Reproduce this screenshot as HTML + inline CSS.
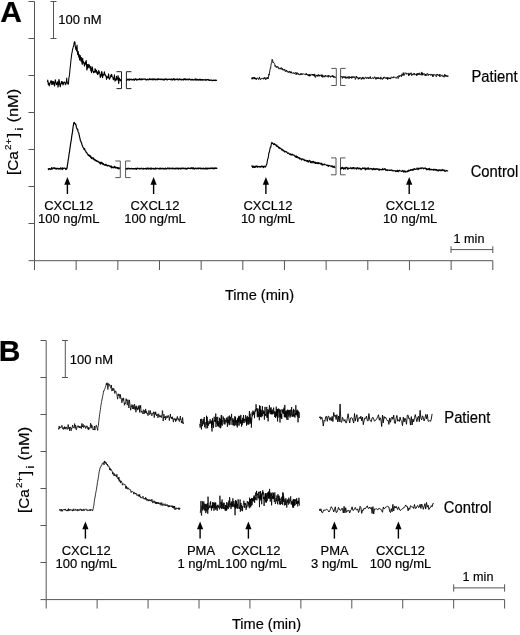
<!DOCTYPE html>
<html><head><meta charset="utf-8"><title>Figure</title>
<style>html,body{margin:0;padding:0;background:#fff;}svg{display:block;}text{font-family:"Liberation Sans",Arial,sans-serif;fill:#000;stroke:#000;stroke-width:0.18px;}</style>
</head><body>
<svg width="520" height="635" viewBox="0 0 520 635">
<rect width="520" height="635" fill="#fff"/>
<text x="0.3" y="22.3" font-size="30" text-anchor="start" font-weight="bold" >A</text>
<line x1="34.5" y1="1.5" x2="34.5" y2="260.7" stroke="#555" stroke-width="1"/>
<line x1="28.5" y1="1.5" x2="34.5" y2="1.5" stroke="#555" stroke-width="1"/>
<line x1="28.5" y1="38.5" x2="34.5" y2="38.5" stroke="#555" stroke-width="1"/>
<line x1="28.5" y1="75.5" x2="34.5" y2="75.5" stroke="#555" stroke-width="1"/>
<line x1="28.5" y1="112.5" x2="34.5" y2="112.5" stroke="#555" stroke-width="1"/>
<line x1="28.5" y1="149.5" x2="34.5" y2="149.5" stroke="#555" stroke-width="1"/>
<line x1="28.5" y1="186.5" x2="34.5" y2="186.5" stroke="#555" stroke-width="1"/>
<line x1="28.5" y1="223.5" x2="34.5" y2="223.5" stroke="#555" stroke-width="1"/>
<line x1="28.5" y1="260.7" x2="34.5" y2="260.7" stroke="#555" stroke-width="1"/>
<line x1="34.5" y1="260.7" x2="492.8" y2="260.7" stroke="#555" stroke-width="1"/>
<line x1="34.5" y1="260.7" x2="34.5" y2="270" stroke="#555" stroke-width="1"/>
<line x1="76.16" y1="260.7" x2="76.16" y2="270" stroke="#555" stroke-width="1"/>
<line x1="117.83" y1="260.7" x2="117.83" y2="270" stroke="#555" stroke-width="1"/>
<line x1="159.49" y1="260.7" x2="159.49" y2="270" stroke="#555" stroke-width="1"/>
<line x1="201.15" y1="260.7" x2="201.15" y2="270" stroke="#555" stroke-width="1"/>
<line x1="242.82" y1="260.7" x2="242.82" y2="270" stroke="#555" stroke-width="1"/>
<line x1="284.48" y1="260.7" x2="284.48" y2="270" stroke="#555" stroke-width="1"/>
<line x1="326.15" y1="260.7" x2="326.15" y2="270" stroke="#555" stroke-width="1"/>
<line x1="367.81" y1="260.7" x2="367.81" y2="270" stroke="#555" stroke-width="1"/>
<line x1="409.47" y1="260.7" x2="409.47" y2="270" stroke="#555" stroke-width="1"/>
<line x1="451.14" y1="260.7" x2="451.14" y2="270" stroke="#555" stroke-width="1"/>
<line x1="492.8" y1="260.7" x2="492.8" y2="270" stroke="#555" stroke-width="1"/>
<line x1="53.5" y1="1.5" x2="53.5" y2="38.5" stroke="#555" stroke-width="1"/>
<line x1="50.5" y1="1.5" x2="56.5" y2="1.5" stroke="#555" stroke-width="1"/>
<line x1="50.5" y1="38.5" x2="56.5" y2="38.5" stroke="#555" stroke-width="1"/>
<text x="58.3" y="24.2" font-size="13.0" text-anchor="start" font-weight="normal" >100 nM</text>
<line x1="451" y1="249.6" x2="492.8" y2="249.6" stroke="#555" stroke-width="1"/>
<line x1="451" y1="246.3" x2="451" y2="253" stroke="#555" stroke-width="1"/>
<line x1="492.8" y1="246.3" x2="492.8" y2="253" stroke="#555" stroke-width="1"/>
<text x="469" y="242.6" font-size="12.6" text-anchor="middle" font-weight="normal" >1 min</text>
<text x="259.5" y="299.6" font-size="14.6" text-anchor="middle" font-weight="normal" >Time (min)</text>
<text transform="translate(17.8,175.1) scale(1,1.1) rotate(-90)" font-size="14">[Ca</text>
<text transform="translate(10.6,150) scale(1,1.1) rotate(-90)" font-size="8.8">2</text>
<text transform="translate(12,144.4) scale(1,1.1) rotate(-90)" font-size="9.5">+</text>
<text transform="translate(18.4,137.5) scale(1,1.1) rotate(-90)" font-size="15.5">]</text>
<text transform="translate(22.5,130.6) scale(1,1.1) rotate(-90)" font-size="11.5">i</text>
<text transform="translate(17.8,122.5) scale(1,1.17) rotate(-90)" font-size="14">(nM)</text>
<polyline fill="none" stroke="#000" stroke-width="1.05" stroke-linejoin="round" points="47.5,82.16 47.75,80 48,81.48 48.25,84.43 48.5,83.46 48.75,83.06 49,85.2 49.25,85.94 49.5,84.88 49.75,84.48 50,82.81 50.25,83.11 50.5,82.27 50.75,80.9 51,82.18 51.25,80.7 51.5,81.05 51.75,84.63 52,84.38 52.25,81.36 52.5,81.62 52.75,83.81 53,84.11 53.25,83.2 53.5,81.5 53.75,82.04 54,84.05 54.25,84.94 54.5,86 54.75,85.31 55,81.99 55.25,79.74 55.5,80.31 55.75,82.15 56,82.48 56.25,83.55 56.5,84.65 56.75,83.65 57,84.18 57.25,84.16 57.5,81.86 57.75,84.1 58,87.15 58.25,86.17 58.5,83.82 58.75,80.25 59,79.44 59.25,80.28 59.5,82.82 59.75,84.89 60,85.5 60.25,86.82 60.5,85.82 60.75,83.93 61,82.99 61.25,82.26 61.5,81.42 61.75,82.31 62,83.88 62.25,82.91 62.5,81.71 62.75,82.62 63,84.87 63.25,84.47 63.5,83.39 63.75,82.72 64,82.15 64.25,82.4 64.5,82.36 64.75,82.06 65,82.79 65.25,84.8 65.5,83.37 65.75,83.48 66,84.06 66.25,82.18 66.5,80.32 66.75,78.14 67,81.21 67.25,82.62 67.5,82.7 67.75,83.91 68,83.32 68.25,84.34 68.5,83.8 68.75,79.32 69,77.41 69.25,76.04 69.5,74.57 69.75,72.08 70,69.24 70.25,66.7 70.5,64.7 70.75,62.34 71,59.7 71.25,57.84 71.5,55.86 71.75,53.74 72,52.79 72.25,51.42 72.5,49.79 72.75,48.81 73,47.93 73.25,46.74 73.5,46.6 73.75,45.53 74,43.41 74.25,42.28 74.5,41.81 74.75,42.49 75,42.18 75.25,46.43 75.5,47.69 75.75,49.05 76,49.61 76.25,47.28 76.5,50.99 76.75,48.59 77,44.96 77.25,49.46 77.5,53.39 77.75,54.83 78,54.15 78.25,51.58 78.5,53.87 78.75,57.25 79,54.7 79.25,54.62 79.5,59.61 79.75,60.11 80,55.94 80.25,55.53 80.5,57.23 80.75,58.83 81,61.19 81.25,59.63 81.5,57.63 81.75,61.01 82,63.52 82.25,64.39 82.5,61.37 82.75,58.16 83,62.27 83.25,62.59 83.5,61.85 83.75,63.51 84,62.15 84.25,64.74 84.5,66.11 84.75,63.35 85,63.38 85.25,64.76 85.5,62.85 85.75,61.39 86,62.06 86.25,60.4 86.5,64.03 86.75,69.58 87,70.09 87.25,65.46 87.5,64.46 87.75,68.34 88,67.07 88.25,67.45 88.5,66.81 88.75,64.16 89,64.76 89.25,65.46 89.5,65.37 89.75,68.05 90,68.12 90.25,66.17 90.5,66.98 90.75,71.09 91,70.87 91.25,68.47 91.5,72.64 91.75,70.36 92,66.62 92.25,68.04 92.5,67.48 92.75,69.92 93,71.32 93.25,71.22 93.5,72.85 93.75,71.5 94,72.27 94.25,71.94 94.5,72.23 94.75,70.91 95,68.46 95.25,72.24 95.5,70.43 95.75,69.52 96,72.08 96.25,70.75 96.5,70.47 96.75,73.22 97,72.17 97.25,71.64 97.5,74.62 97.75,72.95 98,72.27 98.25,73.99 98.5,73.38 98.75,70.36 99,71.71 99.25,72.77 99.5,71.91 99.75,73.28 100,75.01 100.25,77.59 100.5,77.14 100.75,74.86 101,75.64 101.25,75.98 101.5,72.59 101.75,71.46 102,72.19 102.25,74.1 102.5,77.69 102.75,77.31 103,74.22 103.25,74.93 103.5,75.13 103.75,74.47 104,74.24 104.25,72.08 104.5,71.89 104.75,73.92 105,75.03 105.25,75.7 105.5,74.91 105.75,75.08 106,76.09 106.25,77.22 106.5,79.53 106.75,77.62 107,76.46 107.25,77.16 107.5,77.73 107.75,77.1 108,78.03 108.25,77.79 108.5,73.79 108.75,74.89 109,77.41 109.25,78.27 109.5,79.28 109.75,78.41 110,77.82 110.25,77.88 110.5,76.92 110.75,75.19 111,75.04 111.25,76.61 111.5,74.76 111.75,74.37 112,76.14 112.25,76.66 112.5,76.95 112.75,77.21 113,78.05 113.25,79.74 113.5,79.64 113.75,77.67 114,78.22 114.25,76.21 114.5,74.82 114.75,79.15 115,81.29 115.25,79.57 115.5,80.36 115.75,80.07 116,78.39 116.25,78.28 116.5,76.34 116.75,78.01 117,80.12 117.25,78.83 117.5,78.69 117.75,78.03 118,75.6 118.25,76.66 118.5,82.43 118.75,83.54 119,80.4 119.25,77.99 119.5,78.43 119.75,80.13 120,79.98 120.25,80.61 120.5,79.58 120.75,79.91 121,81.36"/>
<polyline fill="none" stroke="#222" stroke-width="1" points="116.5,71.7 121.5,71.7 121.5,88.6 116.5,88.6"/>
<polyline fill="none" stroke="#222" stroke-width="1" points="131.4,71.7 126.4,71.7 126.4,88.6 131.4,88.6"/>
<polyline fill="none" stroke="#000" stroke-width="1.25" stroke-linejoin="round" points="126.4,79.79 126.73,80.24 127.06,79.88 127.39,79.26 127.72,79.4 128.05,79.84 128.38,79.56 128.71,79.93 129.04,78.98 129.37,80.2 129.7,80.12 130.03,79.12 130.36,79.46 130.69,79.37 131.02,79.43 131.35,79.84 131.68,79.39 132.01,79.27 132.34,79.76 132.67,79.95 133,79.41 133.33,79.63 133.66,79.1 133.99,79.84 134.32,80.23 134.65,79.71 134.98,79.51 135.31,78.9 135.64,79.43 135.97,78.89 136.3,79.76 136.63,80.06 136.96,79.94 137.29,79.56 137.62,79.66 137.95,79.29 138.28,79.57 138.61,79.57 138.94,79.49 139.27,78.67 139.6,79.57 139.93,79.62 140.26,79.24 140.59,79.61 140.92,79.72 141.25,78.8 141.58,79.74 141.91,79.3 142.24,79.09 142.57,79.49 142.9,79.19 143.23,79.28 143.56,79.11 143.89,79.21 144.22,79.05 144.55,79.24 144.88,79.08 145.21,79 145.54,79.75 145.87,79.43 146.2,79.55 146.53,79.96 146.86,79.63 147.19,79.42 147.52,79.08 147.85,79.66 148.18,79.56 148.51,79.74 148.84,79.38 149.17,79.3 149.5,78.76 149.83,79.58 150.16,78.93 150.49,79.25 150.82,79.56 151.15,79.42 151.48,79.37 151.81,79.54 152.14,78.85 152.47,79.41 152.8,79.79 153.13,79.75 153.46,78.93 153.79,79.69 154.12,79.53 154.45,79.08 154.78,78.97 155.11,79.34 155.44,79.82 155.77,79.54 156.1,79.09 156.43,79.42 156.76,79.71 157.09,79.36 157.42,79.24 157.75,79.53 158.08,78.74 158.41,79.52 158.74,78.96 159.07,79.36 159.4,79.49 159.73,79.34 160.06,79.15 160.39,79.26 160.72,79.63 161.05,78.96 161.38,79.1 161.71,79.48 162.04,79.63 162.37,79.38 162.7,79.22 163.03,79.6 163.36,79.26 163.69,80.02 164.02,79.8 164.35,79.97 164.68,79.09 165.01,79.23 165.34,79.3 165.67,79 166,79.22 166.33,79.68 166.66,79.07 166.99,79.29 167.32,79.85 167.65,79.48 167.98,79.54 168.31,79.39 168.64,79.19 168.97,79.27 169.3,79.47 169.63,79.2 169.96,79.4 170.29,79.25 170.62,79.36 170.95,79.87 171.28,79.58 171.61,78.98 171.94,79.33 172.27,79.96 172.6,79.96 172.93,79.03 173.26,79.53 173.59,79.4 173.92,78.61 174.25,79.49 174.58,80.02 174.91,79.18 175.24,79.31 175.57,79.7 175.9,79.27 176.23,79.27 176.56,79.5 176.89,78.97 177.22,79.57 177.55,79.01 177.88,79.44 178.21,79.68 178.54,79.94 178.87,79.19 179.2,79.51 179.53,79.51 179.86,78.88 180.19,79.41 180.52,79.52 180.85,79.62 181.18,80.07 181.51,79.49 181.84,79.45 182.17,79.44 182.5,79.47 182.83,79.63 183.16,79.97 183.49,79.16 183.82,79.5 184.15,78.75 184.48,78.98 184.81,79.55 185.14,78.85 185.47,79.61 185.8,79.91 186.13,79.25 186.46,79.3 186.79,79.53 187.12,79.37 187.45,79.52 187.78,79.33 188.11,79.82 188.44,79.65 188.77,79.54 189.1,78.87 189.43,79.35 189.76,79.59 190.09,79.8 190.42,79.39 190.75,79.78 191.08,79.86 191.41,79.42 191.74,79.84 192.07,79.56 192.4,79.29 192.73,79.62 193.06,80.04 193.39,79.77 193.72,79.66 194.05,79.92 194.38,79.89 194.71,79.74 195.04,79.12 195.37,78.91 195.7,79.2 196.03,80.21 196.36,79.92 196.69,79.23 197.02,79.96 197.35,79.29 197.68,79.78 198.01,80.02 198.34,79.7 198.67,79.99 199,80.02 199.33,79.24 199.66,79.74 199.99,79.92 200.32,79.62 200.65,79.37 200.98,80.23 201.31,79.87 201.64,79.63 201.97,79.54 202.3,79.8 202.63,80.19 202.96,79.69 203.29,80 203.62,79.95 203.95,79.8 204.28,79.88 204.61,79.91 204.94,79.61 205.27,79.48 205.6,80.13 205.93,80.36 206.26,80.11 206.59,79.69 206.92,79.97 207.25,79.81 207.58,79.56 207.91,79.68 208.24,79.83 208.57,80.17 208.9,79.68 209.23,80.37 209.56,80.05 209.89,80.41 210.22,80.36 210.55,80.13 210.88,80.12 211.21,80.19 211.54,80.2 211.87,80.33 212.2,80.68 212.53,80.33 212.86,80.63 213.19,80.45 213.52,80.07 213.85,80.34 214.18,80.39 214.51,80.47 214.84,80.1 215.17,80.55 215.5,80.06 215.83,80.19 216.16,80.45 216.49,80.32 216.82,80.02"/>
<polyline fill="none" stroke="#000" stroke-width="0.9" stroke-linejoin="round" points="251.7,79.27 252,77.6 252.3,78.95 252.6,77.66 252.9,79.25 253.2,77.41 253.5,78 253.8,78.08 254.1,77.03 254.4,79.1 254.7,77.41 255,77.58 255.3,78.1 255.6,79.02 255.9,77.93 256.2,79.89 256.5,78.48 256.8,78.3 257.1,78.81 257.4,78.41 257.7,77.76 258,78.12 258.3,78.62 258.6,79.6 258.9,78.68 259.2,78.83 259.5,76.93 259.8,78.31 260.1,78.48 260.4,79.73 260.7,79.62 261,78.58 261.3,78.87 261.6,78.45 261.9,77.99 262.2,78.51 262.5,78.24 262.8,78.73 263.1,78.98 263.4,78.36 263.7,79.28 264,77.71 264.3,78.51 264.6,78.64 264.9,77.21 265.2,78.94 265.5,79 265.8,79.71 266.1,78.47 266.4,78.93 266.7,78.96 267,77.36 267.3,78.71 267.6,77.49 267.9,78.7 268.2,79.01 268.5,77.26 268.8,74.2 269.1,75.24 269.4,73 269.7,72.06 270,69.45 270.3,68.23 270.6,68.53 270.9,65.5 271.2,63.91 271.5,62.52 271.8,62.06 272.1,59.31 272.4,60.32 272.7,60.19 273,62.96 273.3,62.45 273.6,62.32 273.9,63.01 274.2,63.31 274.5,63.78 274.8,64.58 275.1,66.49 275.4,65.53 275.7,65.94 276,66.62 276.3,67.65 276.6,67.14 276.9,66.24 277.2,67.21 277.5,67.35 277.8,66.56 278.1,67.12 278.4,68.02 278.7,67.61 279,69.23 279.3,68.42 279.6,67.97 279.9,68.35 280.2,67.88 280.5,68.16 280.8,69.27 281.1,68.79 281.4,67.58 281.7,68.09 282,69.54 282.3,68.42 282.6,69.1 282.9,70.19 283.2,69.36 283.5,69.42 283.8,69.45 284.1,70.58 284.4,69.45 284.7,69.19 285,70.23 285.3,71.43 285.6,70.67 285.9,71.62 286.2,71.51 286.5,69.99 286.8,70.94 287.1,70.95 287.4,71.15 287.7,72.12 288,72.37 288.3,72.02 288.6,72.47 288.9,71.31 289.2,72.42 289.5,71.22 289.8,71.82 290.1,71.3 290.4,73.14 290.7,72.08 291,73.01 291.3,71.65 291.6,72.82 291.9,73.32 292.2,72.89 292.5,73.03 292.8,73.08 293.1,72.99 293.4,72.83 293.7,72.55 294,73.92 294.3,73.26 294.6,73.35 294.9,73.58 295.2,72.52 295.5,72.49 295.8,72.55 296.1,74.8 296.4,73.4 296.7,74.14 297,72.39 297.3,73.45 297.6,73.83 297.9,73.4 298.2,74.62 298.5,73.64 298.8,73.87 299.1,74.75 299.4,75.13 299.7,74.28 300,73.76 300.3,73.91 300.6,74.99 300.9,73.42 301.2,73.5 301.5,73.57 301.8,74.99 302.1,74.6 302.4,73.7 302.7,73.83 303,74.37 303.3,74.03 303.6,73.69 303.9,73.87 304.2,74.34 304.5,74.08 304.8,74.51 305.1,74.31 305.4,74.08 305.7,74.92 306,74.97 306.3,73.27 306.6,74.87 306.9,74.38 307.2,74.02 307.5,75.29 307.8,74.97 308.1,75.21 308.4,74.45 308.7,76.12 309,75.24 309.3,74.48 309.6,76.27 309.9,74.36 310.2,76.04 310.5,74.79 310.8,74.58 311.1,74.52 311.4,74.35 311.7,74.43 312,75.37 312.3,75.07 312.6,74 312.9,75.32 313.2,74.15 313.5,75.58 313.8,74.92 314.1,75.11 314.4,76.13 314.7,73.87 315,76.91 315.3,77.54 315.6,76.16 315.9,75.81 316.2,74.95 316.5,76.23 316.8,75.34 317.1,75.29 317.4,74.95 317.7,76.53 318,76.17 318.3,74.57 318.6,75.54 318.9,74.7 319.2,76.31 319.5,75.03 319.8,75.64 320.1,76.11 320.4,75.59 320.7,74.87 321,75.45 321.3,74.84 321.6,76.83 321.9,76.49 322.2,74.6 322.5,75.05 322.8,77.48 323.1,76.38 323.4,75.7 323.7,76.6 324,76.21 324.3,76.54 324.6,75.73 324.9,77.18 325.2,76.22 325.5,75.21 325.8,76.04 326.1,75.86 326.4,76.39 326.7,76.32 327,76.22 327.3,75.55 327.6,76.32 327.9,75.77 328.2,77.35 328.5,75.4 328.8,76.03 329.1,75.88 329.4,75.55 329.7,76.56 330,76.5 330.3,76.43 330.6,77.39 330.9,75.92 331.2,76.66 331.5,76.42 331.8,76.56 332.1,75.47 332.4,75.53 332.7,76.99 333,75.57 333.3,77.21 333.6,77.51 333.9,76.04 334.2,76.69 334.5,76.59 334.8,77.55 335.1,78 335.4,77.07 335.7,77.12 336,77.39"/>
<polyline fill="none" stroke="#555" stroke-width="1" points="331.3,68.4 336.3,68.4 336.3,85.5 331.3,85.5"/>
<polyline fill="none" stroke="#555" stroke-width="1" points="345.6,68.4 340.6,68.4 340.6,85.5 345.6,85.5"/>
<polyline fill="none" stroke="#000" stroke-width="0.9" stroke-linejoin="round" points="340.6,77.02 340.9,77.05 341.2,76.19 341.5,76.67 341.8,76.71 342.1,76.78 342.4,78.39 342.7,76.57 343,76.59 343.3,76.49 343.6,77.63 343.9,76.57 344.2,76.84 344.5,77.59 344.8,77.52 345.1,76.24 345.4,78.36 345.7,77.23 346,77.76 346.3,77.31 346.6,78.37 346.9,76.85 347.2,76.66 347.5,77.46 347.8,78.22 348.1,77.19 348.4,77.9 348.7,78.41 349,76.2 349.3,78.32 349.6,78.16 349.9,76.96 350.2,77.3 350.5,77.01 350.8,78 351.1,76.93 351.4,77.9 351.7,78.48 352,76.14 352.3,77.8 352.6,77.43 352.9,77.13 353.2,77.85 353.5,77.44 353.8,76.39 354.1,77.11 354.4,77.56 354.7,77.03 355,76.6 355.3,79.48 355.6,78.73 355.9,78.63 356.2,77.75 356.5,76.12 356.8,77.47 357.1,78.1 357.4,77.37 357.7,77.28 358,78 358.3,79.36 358.6,78.01 358.9,77.89 359.2,77.26 359.5,78.98 359.8,78.11 360.1,77.85 360.4,77.67 360.7,77.49 361,78.12 361.3,79.52 361.6,78.04 361.9,78.41 362.2,77.45 362.5,78.27 362.8,76.96 363.1,79.14 363.4,77.67 363.7,78.46 364,78.19 364.3,79.18 364.6,78.56 364.9,78.6 365.2,76.92 365.5,77.3 365.8,77.28 366.1,77.33 366.4,77.42 366.7,78.74 367,78.01 367.3,78.07 367.6,77.36 367.9,77.36 368.2,77.04 368.5,78.86 368.8,78.15 369.1,78.6 369.4,78.24 369.7,77.38 370,78.02 370.3,76.46 370.6,78.6 370.9,78.1 371.2,78.24 371.5,78.16 371.8,78.54 372.1,77.91 372.4,78.11 372.7,77.57 373,77.9 373.3,78.33 373.6,78.78 373.9,77.81 374.2,77.04 374.5,76.69 374.8,77.89 375.1,77.54 375.4,78.54 375.7,79.32 376,77.51 376.3,79.09 376.6,79.02 376.9,77.37 377.2,77.76 377.5,78.65 377.8,77.49 378.1,77.34 378.4,78.69 378.7,77.66 379,77.62 379.3,78.6 379.6,78.2 379.9,78.3 380.2,79.22 380.5,79.12 380.8,76.86 381.1,78.85 381.4,78.16 381.7,78.4 382,78.77 382.3,79.52 382.6,78.75 382.9,78.06 383.2,78.47 383.5,76.98 383.8,78.53 384.1,78.28 384.4,77.2 384.7,77.03 385,77.07 385.3,77.44 385.6,78.47 385.9,77.91 386.2,77.51 386.5,77.81 386.8,78.94 387.1,77.77 387.4,77.37 387.7,79.61 388,77.33 388.3,78.31 388.6,78.6 388.9,78.04 389.2,77.74 389.5,78.85 389.8,77.98 390.1,78.35 390.4,77.83 390.7,79.08 391,77.16 391.3,76.89 391.6,77.17 391.9,77.7 392.2,77.58 392.5,77.85 392.8,77.26 393.1,78.08 393.4,76.67 393.7,76.76 394,77.47 394.3,77.12 394.6,77.02 394.9,77.17 395.2,77.05 395.5,77.76 395.8,78.06 396.1,78.44 396.4,77.61 396.7,76.96 397,76.65 397.3,76.63 397.6,76.23 397.9,77.82 398.2,78.62 398.5,77.25 398.8,77.3 399.1,75.27 399.4,76.65 399.7,76.01 400,76.32 400.3,75.47 400.6,75.31 400.9,75.01 401.2,74.96 401.5,76.72 401.8,75.52 402.1,73.73 402.4,74.43 402.7,74.12 403,75.7 403.3,72.63 403.6,74.29 403.9,74.44 404.2,75.42 404.5,75.1 404.8,73.72 405.1,72.66 405.4,73.11 405.7,73.36 406,73.72 406.3,73.38 406.6,72.9 406.9,74.37 407.2,74.02 407.5,73.63 407.8,73.58 408.1,73.48 408.4,73.2 408.7,75.85 409,73.74 409.3,73.55 409.6,75.14 409.9,73.75 410.2,74.26 410.5,73.29 410.8,73.75 411.1,72.7 411.4,74.43 411.7,75.62 412,74.29 412.3,74.38 412.6,75 412.9,75 413.2,73.48 413.5,73.58 413.8,73.91 414.1,75.11 414.4,73.29 414.7,73.76 415,74.01 415.3,74.22 415.6,74.37 415.9,73.94 416.2,75.14 416.5,73.68 416.8,75.78 417.1,74.4 417.4,74.77 417.7,73.34 418,74.52 418.3,73.36 418.6,73.19 418.9,74.89 419.2,74.3 419.5,73.45 419.8,72.8 420.1,74.87 420.4,74.35 420.7,74.94 421,75.07 421.3,75.22 421.6,72.68 421.9,71.95 422.2,74.88 422.5,72.97 422.8,75.24 423.1,74.71 423.4,74.41 423.7,74.37 424,73.24 424.3,74.37 424.6,74.32 424.9,74.75 425.2,75.96 425.5,74.09 425.8,75.01 426.1,75.87 426.4,73.99 426.7,73.89 427,73.96 427.3,73.69 427.6,73.32 427.9,75.06 428.2,75.74 428.5,75.07 428.8,74.23 429.1,74.2 429.4,74.87 429.7,74.14 430,74.59 430.3,74.33 430.6,75.44 430.9,75.25 431.2,74.91 431.5,73.97 431.8,74.46 432.1,75.42 432.4,76.23 432.7,74.51 433,76.88 433.3,74.64 433.6,74.66 433.9,75.24 434.2,74.51 434.5,75.05 434.8,75.14 435.1,74.73 435.4,74.88 435.7,75.54 436,76.08 436.3,76.85 436.6,75.32 436.9,74.12 437.2,74.89 437.5,74.03 437.8,75.34 438.1,74.78 438.4,75.57 438.7,75.15 439,75.37 439.3,75.09 439.6,76.58 439.9,74.05 440.2,76.3 440.5,76.37 440.8,75.98 441.1,75.75 441.4,75.89 441.7,75.29 442,74.82 442.3,76.27 442.6,76.25 442.9,76.41 443.2,75.64 443.5,76.57 443.8,76.28 444.1,77.25 444.4,75.86 444.7,74.28 445,75.11 445.3,76.23 445.6,74.9 445.9,76.52 446.2,75.46 446.5,76.14 446.8,76.29 447.1,75.44 447.4,76.42 447.7,77.03 448,75.76 448.3,75.96"/>
<text transform="translate(494.5,81.6) scale(1,1.07)" font-size="14.8" text-anchor="middle" font-weight="normal" >Patient</text>
<polyline fill="none" stroke="#000" stroke-width="1.2" stroke-linejoin="round" points="48,168.57 48.33,169.16 48.66,169.49 48.99,168.58 49.32,168.49 49.65,169.08 49.98,168.63 50.31,168.97 50.64,169.32 50.97,168.85 51.3,169.09 51.63,167.55 51.96,169.07 52.29,168.53 52.62,168.18 52.95,168.53 53.28,168.07 53.61,168.07 53.94,167.68 54.27,168.31 54.6,167.99 54.93,168.24 55.26,168.96 55.59,168.63 55.92,168.02 56.25,168.8 56.58,169.05 56.91,168.61 57.24,168.61 57.57,168.55 57.9,168.14 58.23,169.07 58.56,168.81 58.89,168.55 59.22,168.57 59.55,168.52 59.88,169.26 60.21,168.46 60.54,167.82 60.87,168.65 61.2,168.99 61.53,168.89 61.86,168.41 62.19,167.85 62.52,169.52 62.85,168.13 63.18,168.64 63.51,168.51 63.84,168.28 64.17,168.38 64.5,168.07 64.83,168.16 65.16,168.33 65.49,168.5 65.82,169.66 66.15,168.11 66.48,169.07 66.81,168.59 67.14,167.42 67.47,164.7 67.8,163.05 68.13,160.35 68.46,158.69 68.79,156.47 69.12,153.51 69.45,152.32 69.78,149.47 70.11,147.31 70.44,145.18 70.77,142.62 71.1,141.01 71.43,139.03 71.76,136.13 72.09,134.22 72.42,132.41 72.75,129.61 73.08,126.95 73.41,125.34 73.74,122.88 74.07,122.81 74.4,122.45 74.73,123.5 75.06,123.48 75.39,124.52 75.72,124.08 76.05,125.22 76.38,127.22 76.71,128.22 77.04,128.53 77.37,129.48 77.7,129.33 78.03,131.67 78.36,132.26 78.69,132.7 79.02,134.38 79.35,135.5 79.68,137.45 80.01,138.39 80.34,140.53 80.67,141.23 81,141.67 81.33,142.93 81.66,143.11 81.99,145.01 82.32,145.34 82.65,146.38 82.98,147.19 83.31,147.69 83.64,148.03 83.97,149.09 84.3,149.61 84.63,148.61 84.96,149.98 85.29,150.65 85.62,150.94 85.95,151.73 86.28,152.49 86.61,152.6 86.94,152.89 87.27,153.85 87.6,153.94 87.93,154.3 88.26,155.49 88.59,155.41 88.92,154.81 89.25,156.22 89.58,155.59 89.91,156.34 90.24,155.68 90.57,157.27 90.9,156.29 91.23,157.54 91.56,158.55 91.89,158.11 92.22,158.08 92.55,157.84 92.88,158.38 93.21,159.15 93.54,157.89 93.87,158.67 94.2,159.95 94.53,159.37 94.86,160.3 95.19,160.27 95.52,159.76 95.85,160.3 96.18,161.2 96.51,160.59 96.84,160.91 97.17,161.35 97.5,161.03 97.83,161.32 98.16,161.85 98.49,161.7 98.82,161.95 99.15,162.41 99.48,163.11 99.81,162.41 100.14,162.32 100.47,164.11 100.8,163.35 101.13,162.17 101.46,162.97 101.79,162.57 102.12,163.81 102.45,163.06 102.78,163.51 103.11,164.63 103.44,163.69 103.77,164.12 104.1,164.41 104.43,164.84 104.76,164.99 105.09,165.32 105.42,164.45 105.75,165.08 106.08,164.19 106.41,165.11 106.74,165.14 107.07,166.16 107.4,165.61 107.73,165.42 108.06,165.53 108.39,165.4 108.72,165.7 109.05,165.72 109.38,166.14 109.71,165.98 110.04,166.37 110.37,166.95 110.7,166.04 111.03,166.31 111.36,166.17 111.69,167.81 112.02,167.73 112.35,167.28 112.68,167.16 113.01,166.78 113.34,167.77 113.67,167.43 114,167.65 114.33,167.57 114.66,166.27 114.99,166.89 115.32,167.48 115.65,168.02 115.98,167.36 116.31,167.95 116.64,167.75 116.97,167.44 117.3,168.28 117.63,167.49 117.96,167.46 118.29,168.85 118.62,168.77 118.95,168.24 119.28,168.69 119.61,167.86 119.94,168.07 120.27,168.38"/>
<polyline fill="none" stroke="#555" stroke-width="1" points="115.3,161 120.3,161 120.3,177.6 115.3,177.6"/>
<polyline fill="none" stroke="#555" stroke-width="1" points="130.6,161 125.6,161 125.6,177.6 130.6,177.6"/>
<polyline fill="none" stroke="#000" stroke-width="1.35" stroke-linejoin="round" points="125.6,168.92 125.93,168.78 126.26,168.82 126.59,168.65 126.92,168.93 127.25,168.31 127.58,168.97 127.91,168.62 128.24,168.64 128.57,168.42 128.9,168.28 129.23,168.57 129.56,168.86 129.89,168.76 130.22,168.89 130.55,168.62 130.88,168.73 131.21,168.64 131.54,168.41 131.87,168.65 132.2,168.56 132.53,168.87 132.86,168.62 133.19,168.66 133.52,168.8 133.85,168.89 134.18,168.63 134.51,168.63 134.84,168.7 135.17,168.91 135.5,168.43 135.83,168.38 136.16,169.38 136.49,168.62 136.82,168.68 137.15,168.13 137.48,168.54 137.81,168.61 138.14,168.5 138.47,168.54 138.8,168.6 139.13,168.72 139.46,168.87 139.79,168.33 140.12,168.32 140.45,168.77 140.78,168.68 141.11,168.42 141.44,168.28 141.77,168.43 142.1,168.63 142.43,168.77 142.76,168.87 143.09,168.8 143.42,168.37 143.75,169.05 144.08,168.79 144.41,168.59 144.74,168.57 145.07,168.84 145.4,168.51 145.73,168.53 146.06,168.63 146.39,168.96 146.72,168.25 147.05,168.85 147.38,168.09 147.71,168.37 148.04,168.64 148.37,168.84 148.7,168.27 149.03,168.83 149.36,168.89 149.69,168.48 150.02,168.52 150.35,168.54 150.68,168.11 151.01,169.19 151.34,168.71 151.67,168.26 152,168.73 152.33,168.7 152.66,168.54 152.99,168.62 153.32,168.82 153.65,168.46 153.98,168.34 154.31,169.01 154.64,168.68 154.97,168.48 155.3,168.98 155.63,168.02 155.96,168.3 156.29,168.73 156.62,168.62 156.95,168.64 157.28,168.43 157.61,168.4 157.94,168.42 158.27,168.47 158.6,168.73 158.93,168.81 159.26,168.7 159.59,168.9 159.92,168.13 160.25,168.51 160.58,168.29 160.91,168.99 161.24,168.48 161.57,168.7 161.9,168.59 162.23,168.35 162.56,168.31 162.89,168.66 163.22,168.72 163.55,168.42 163.88,168.98 164.21,168.55 164.54,168.75 164.87,168.62 165.2,168.77 165.53,168.15 165.86,168.9 166.19,168.73 166.52,168.73 166.85,168.84 167.18,168.68 167.51,168.16 167.84,168.38 168.17,168.23 168.5,168.38 168.83,168.65 169.16,168.87 169.49,168.14 169.82,168.21 170.15,168.5 170.48,168.62 170.81,168.55 171.14,168.35 171.47,168.59 171.8,168.57 172.13,168.29 172.46,168.79 172.79,168.11 173.12,168.48 173.45,168.47 173.78,168.57 174.11,168.72 174.44,168.35 174.77,168.45 175.1,168.62 175.43,168.88 175.76,168.31 176.09,168.64 176.42,168.52 176.75,168.25 177.08,168.6 177.41,168.23 177.74,168.47 178.07,168.51 178.4,169.01 178.73,168.25 179.06,168.65 179.39,168.54 179.72,168.44 180.05,168.38 180.38,168.82 180.71,168.32 181.04,168.67 181.37,168.41 181.7,168.63 182.03,168.67 182.36,168.08 182.69,168.22 183.02,168.44 183.35,168.48 183.68,168.11 184.01,168.56 184.34,168.69 184.67,168.43 185,168.49 185.33,168.14 185.66,168.72 185.99,168.9 186.32,169.13 186.65,168.48 186.98,168.91 187.31,168.3 187.64,168.54 187.97,168.46 188.3,168.06 188.63,168.27 188.96,168.43 189.29,168.43 189.62,168.31 189.95,168.41 190.28,168.64 190.61,168.69 190.94,167.86 191.27,168.29 191.6,168.42 191.93,167.82 192.26,168.52 192.59,168.73 192.92,168.07 193.25,167.83 193.58,168.27 193.91,168.74 194.24,169.09 194.57,168.5 194.9,168.41 195.23,168.19 195.56,168.58 195.89,168.21 196.22,168.43 196.55,168.67 196.88,168.43 197.21,168.15 197.54,168.49 197.87,168.69 198.2,168.7 198.53,167.99 198.86,168.51 199.19,168.51 199.52,168.32 199.85,168.11 200.18,168.21 200.51,168.18 200.84,168.92 201.17,168.46 201.5,168.33 201.83,168.49 202.16,168.74 202.49,168.38 202.82,168.61 203.15,168.56 203.48,168.28 203.81,168.79 204.14,168.47 204.47,168.68 204.8,168.74 205.13,168.28 205.46,168.19 205.79,168.23 206.12,168.94 206.45,168.4 206.78,168.29 207.11,168.77 207.44,168.21 207.77,168.85 208.1,168.21 208.43,168.46 208.76,168.4 209.09,168.46 209.42,168.61 209.75,168.56 210.08,168.07 210.41,168.1 210.74,168.34 211.07,168.55 211.4,168.27 211.73,168.2 212.06,167.89 212.39,168.48 212.72,168.4 213.05,168.09 213.38,168.26 213.71,168.7 214.04,168.19 214.37,168.15 214.7,168.5 215.03,167.87 215.36,168.23 215.69,168.27 216.02,168.13 216.35,168.22 216.68,168.23 217.01,168.35 217.34,168.25"/>
<polyline fill="none" stroke="#000" stroke-width="1.1" stroke-linejoin="round" points="251.7,166.89 252.03,165.76 252.36,166.68 252.69,167.59 253.02,165.95 253.35,167 253.68,166.4 254.01,167.49 254.34,166.48 254.67,166.4 255,167.55 255.33,167.36 255.66,166.53 255.99,165.7 256.32,165.87 256.65,166.94 256.98,166.95 257.31,165.98 257.64,167.35 257.97,166.98 258.3,166.44 258.63,166.64 258.96,166.81 259.29,166.41 259.62,167.06 259.95,166.62 260.28,166.63 260.61,167.18 260.94,166.94 261.27,165.95 261.6,166.71 261.93,166.17 262.26,166.79 262.59,166.93 262.92,166.01 263.25,167.21 263.58,167.63 263.91,166.91 264.24,166.13 264.57,166.63 264.9,166.86 265.23,166.96 265.56,166.99 265.89,166.34 266.22,165.1 266.55,164.34 266.88,164.07 267.21,161.31 267.54,159.77 267.87,158.7 268.2,157.85 268.53,155.63 268.86,152.9 269.19,152.52 269.52,151.04 269.85,149.46 270.18,147.89 270.51,146.7 270.84,147.08 271.17,144.77 271.5,143.12 271.83,142.36 272.16,142.87 272.49,143.39 272.82,143.26 273.15,143.43 273.48,144.56 273.81,144.65 274.14,144.45 274.47,143.61 274.8,144.71 275.13,144.32 275.46,144.76 275.79,145.26 276.12,145.72 276.45,146.26 276.78,144.76 277.11,146.55 277.44,146.1 277.77,146.61 278.1,146.4 278.43,147.9 278.76,147.34 279.09,148.01 279.42,147.41 279.75,148.59 280.08,148.42 280.41,148.14 280.74,148.71 281.07,148.73 281.4,148.87 281.73,150.21 282.06,149.89 282.39,149.76 282.72,149.39 283.05,150.93 283.38,150.59 283.71,150.65 284.04,150.6 284.37,151.98 284.7,151.99 285.03,151.39 285.36,151.48 285.69,151.71 286.02,152 286.35,152.23 286.68,151.68 287.01,152.21 287.34,152.71 287.67,153.4 288,153.3 288.33,153.25 288.66,152.9 288.99,153.65 289.32,154.02 289.65,154.23 289.98,154.56 290.31,153.88 290.64,153.88 290.97,154.87 291.3,154.23 291.63,154.91 291.96,154.77 292.29,154.13 292.62,155.05 292.95,155.07 293.28,155.14 293.61,155.23 293.94,154.95 294.27,155.47 294.6,155.65 294.93,156.56 295.26,156.09 295.59,156.5 295.92,157.39 296.25,155.73 296.58,157.39 296.91,157.12 297.24,156.97 297.57,156.7 297.9,158.03 298.23,157.81 298.56,157.61 298.89,157.38 299.22,158.62 299.55,159.03 299.88,157.92 300.21,158.49 300.54,158.83 300.87,159.24 301.2,158.72 301.53,160.08 301.86,159.13 302.19,159.1 302.52,158.96 302.85,158.91 303.18,159.94 303.51,159.71 303.84,159.38 304.17,159.37 304.5,160.47 304.83,160.66 305.16,160.49 305.49,160.35 305.82,160.08 306.15,160.98 306.48,161.2 306.81,160.75 307.14,160.62 307.47,161.68 307.8,160.52 308.13,161.22 308.46,162.14 308.79,161.23 309.12,161.16 309.45,160.23 309.78,160.96 310.11,161.42 310.44,162.52 310.77,161.02 311.1,162.88 311.43,161.82 311.76,161.76 312.09,162.19 312.42,161.39 312.75,162.36 313.08,163.01 313.41,161.27 313.74,161.87 314.07,161.75 314.4,162.55 314.73,162.61 315.06,163.57 315.39,162.13 315.72,163.35 316.05,162.58 316.38,163.13 316.71,162.91 317.04,163.38 317.37,162.67 317.7,163.7 318.03,163.63 318.36,162.52 318.69,163.17 319.02,163.57 319.35,162.93 319.68,162.98 320.01,163.31 320.34,163.89 320.67,164.05 321,163.44 321.33,164.24 321.66,163.06 321.99,165.25 322.32,164.04 322.65,165.06 322.98,164.2 323.31,164.31 323.64,164.8 323.97,164.81 324.3,163.93 324.63,164.51 324.96,164.79 325.29,164.74 325.62,164.82 325.95,164.82 326.28,164.94 326.61,165.47 326.94,165.23 327.27,165.22 327.6,165.01 327.93,166.1 328.26,165.42 328.59,166.42 328.92,165.58 329.25,165.28 329.58,165.73 329.91,165.75 330.24,165.83 330.57,166.01 330.9,166.05 331.23,166.79 331.56,165.81 331.89,165.81 332.22,165.89 332.55,167.08 332.88,166.41 333.21,166.68 333.54,167.35 333.87,166.78 334.2,166.11 334.53,167.07 334.86,167.46 335.19,168.07"/>
<polyline fill="none" stroke="#555" stroke-width="1" points="331,157.9 336,157.9 336,174.8 331,174.8"/>
<polyline fill="none" stroke="#555" stroke-width="1" points="345.5,157.9 340.5,157.9 340.5,174.8 345.5,174.8"/>
<polyline fill="none" stroke="#000" stroke-width="1.1" stroke-linejoin="round" points="340.5,169.32 340.83,168.03 341.16,168.91 341.49,167.47 341.82,168.32 342.15,168.51 342.48,167.16 342.81,167.91 343.14,168.34 343.47,169.16 343.8,167.88 344.13,168.46 344.46,167.78 344.79,168.51 345.12,169.19 345.45,168.75 345.78,167.37 346.11,167.53 346.44,167.39 346.77,167.87 347.1,167.45 347.43,169.07 347.76,168.22 348.09,169.23 348.42,168.15 348.75,168.24 349.08,168.11 349.41,168.33 349.74,168.41 350.07,168.36 350.4,167.93 350.73,167.68 351.06,168.29 351.39,168.67 351.72,168.52 352.05,167.75 352.38,168.72 352.71,168.06 353.04,167.46 353.37,168.28 353.7,167.61 354.03,168.88 354.36,168.4 354.69,167.92 355.02,168.07 355.35,168.31 355.68,168.11 356.01,167.96 356.34,169.26 356.67,168.16 357,168.1 357.33,167.47 357.66,168.66 357.99,168.6 358.32,168.73 358.65,168.02 358.98,169.15 359.31,168 359.64,167.98 359.97,168.43 360.3,168.42 360.63,168.86 360.96,169.76 361.29,168.69 361.62,169.29 361.95,168.96 362.28,168.33 362.61,167.86 362.94,168.53 363.27,168.06 363.6,168.24 363.93,168.74 364.26,168.43 364.59,169.06 364.92,167.74 365.25,168.11 365.58,169.91 365.91,169.13 366.24,168.86 366.57,169.06 366.9,168.13 367.23,168.21 367.56,169.17 367.89,167.81 368.22,169.05 368.55,167.78 368.88,169.43 369.21,169.07 369.54,168.75 369.87,169.04 370.2,169 370.53,168.45 370.86,168.27 371.19,168.79 371.52,169.16 371.85,168.48 372.18,169.03 372.51,169.86 372.84,168.93 373.17,168.94 373.5,168.27 373.83,169.73 374.16,168.97 374.49,168.89 374.82,168.52 375.15,169.61 375.48,169.14 375.81,169.32 376.14,169.04 376.47,168.64 376.8,169.32 377.13,169.4 377.46,168.86 377.79,168.86 378.12,169.2 378.45,169.07 378.78,169.97 379.11,170.31 379.44,169.15 379.77,168.99 380.1,169.82 380.43,169.56 380.76,169.44 381.09,169.38 381.42,169.82 381.75,169.58 382.08,169.61 382.41,169.79 382.74,168.32 383.07,169.62 383.4,169.64 383.73,169.5 384.06,169.3 384.39,168.84 384.72,168.65 385.05,169.51 385.38,168.95 385.71,170.39 386.04,170.02 386.37,169.7 386.7,170.32 387.03,170.02 387.36,169.77 387.69,170.62 388.02,170.13 388.35,170.08 388.68,170.32 389.01,170.32 389.34,170.44 389.67,169.99 390,170.12 390.33,170.55 390.66,170.41 390.99,170.57 391.32,169.81 391.65,170.3 391.98,170.18 392.31,170.55 392.64,170.86 392.97,170.4 393.3,170.68 393.63,170.72 393.96,170.96 394.29,170.79 394.62,170.68 394.95,170.61 395.28,170.77 395.61,171.51 395.94,171.64 396.27,171.12 396.6,170.63 396.93,171.01 397.26,171.32 397.59,170.17 397.92,170.81 398.25,171.83 398.58,171.08 398.91,170.53 399.24,170.85 399.57,170.19 399.9,170.92 400.23,170.9 400.56,170.95 400.89,170.97 401.22,170.98 401.55,171.51 401.88,171.23 402.21,170.93 402.54,171.14 402.87,170.26 403.2,171.06 403.53,172.11 403.86,171.83 404.19,171.52 404.52,170.82 404.85,171.23 405.18,172.29 405.51,171.21 405.84,171.16 406.17,171.69 406.5,171.9 406.83,171.46 407.16,171.78 407.49,170.69 407.82,171.64 408.15,170.82 408.48,171.11 408.81,169.97 409.14,170.9 409.47,170.48 409.8,170.7 410.13,170.02 410.46,169.6 410.79,170.07 411.12,170.45 411.45,169.92 411.78,169.67 412.11,169.63 412.44,170.37 412.77,169.56 413.1,168.96 413.43,170.12 413.76,169.4 414.09,169.52 414.42,168.5 414.75,169.06 415.08,169.27 415.41,169.41 415.74,169.18 416.07,169.44 416.4,168.9 416.73,168.5 417.06,167.94 417.39,169.22 417.72,168.78 418.05,169.66 418.38,169.36 418.71,168.13 419.04,168.8 419.37,168.77 419.7,168.8 420.03,167.84 420.36,168.14 420.69,168.12 421.02,168.86 421.35,168.35 421.68,167.9 422.01,167.9 422.34,168.27 422.67,167.74 423,167.93 423.33,168.37 423.66,168.91 423.99,168.62 424.32,168.55 424.65,168.07 424.98,168.18 425.31,167.81 425.64,168.88 425.97,168.79 426.3,168.58 426.63,169.99 426.96,168.87 427.29,169.61 427.62,169.1 427.95,169.35 428.28,168.63 428.61,169.3 428.94,169.65 429.27,168.31 429.6,170.02 429.93,168.97 430.26,169.36 430.59,169.3 430.92,170.01 431.25,169.85 431.58,169.33 431.91,169.4 432.24,169.88 432.57,169.46 432.9,169.43 433.23,169.56 433.56,170.28 433.89,169.17 434.22,169.21 434.55,170.05 434.88,169.61 435.21,169.27 435.54,170.25 435.87,169.68 436.2,169.54 436.53,169.44 436.86,170.73 437.19,170 437.52,170.85 437.85,170.44 438.18,169.85 438.51,170.89 438.84,170.25 439.17,170.66 439.5,169.69 439.83,169.7 440.16,170.14 440.49,169.99 440.82,170.84 441.15,170.68 441.48,169.95 441.81,170.56 442.14,169.3 442.47,170.35 442.8,170.53 443.13,169.9 443.46,169.91 443.79,170.52 444.12,170.3 444.45,171.24 444.78,170.1 445.11,170.76 445.44,171.33 445.77,171.22 446.1,170.86 446.43,170.38 446.76,170.59 447.09,171.02 447.42,170.73 447.75,170.84 448.08,170.55"/>
<text transform="translate(494.5,177.2) scale(1,1.07)" font-size="14.8" text-anchor="middle" font-weight="normal" >Control</text>
<line x1="67.4" y1="180" x2="67.4" y2="194" stroke="#000" stroke-width="1.4"/>
<polygon points="67.4,177 64.3,184.8 70.5,184.8" fill="#000"/>
<text x="68.7" y="210" font-size="13.0" text-anchor="middle" font-weight="normal" >CXCL12</text>
<text x="68.7" y="223.1" font-size="13.0" text-anchor="middle" font-weight="normal" >100 ng/mL</text>
<line x1="153.6" y1="180" x2="153.6" y2="194" stroke="#000" stroke-width="1.4"/>
<polygon points="153.6,177 150.5,184.8 156.7,184.8" fill="#000"/>
<text x="155" y="210" font-size="13.0" text-anchor="middle" font-weight="normal" >CXCL12</text>
<text x="155" y="223.1" font-size="13.0" text-anchor="middle" font-weight="normal" >100 ng/mL</text>
<line x1="265.9" y1="180" x2="265.9" y2="194" stroke="#000" stroke-width="1.4"/>
<polygon points="265.9,177 262.8,184.8 269,184.8" fill="#000"/>
<text x="268" y="210" font-size="13.0" text-anchor="middle" font-weight="normal" >CXCL12</text>
<text x="268" y="223.1" font-size="13.0" text-anchor="middle" font-weight="normal" >10 ng/mL</text>
<line x1="409.2" y1="180" x2="409.2" y2="194" stroke="#000" stroke-width="1.4"/>
<polygon points="409.2,177 406.1,184.8 412.3,184.8" fill="#000"/>
<text x="410.2" y="210" font-size="13.0" text-anchor="middle" font-weight="normal" >CXCL12</text>
<text x="410.2" y="223.1" font-size="13.0" text-anchor="middle" font-weight="normal" >10 ng/mL</text>
<text x="-1.2" y="361.2" font-size="30" text-anchor="start" font-weight="bold" >B</text>
<line x1="46.2" y1="340.5" x2="46.2" y2="599.6" stroke="#555" stroke-width="1"/>
<line x1="40.5" y1="340.5" x2="46.2" y2="340.5" stroke="#555" stroke-width="1"/>
<line x1="40.5" y1="377.5" x2="46.2" y2="377.5" stroke="#555" stroke-width="1"/>
<line x1="40.5" y1="414.5" x2="46.2" y2="414.5" stroke="#555" stroke-width="1"/>
<line x1="40.5" y1="451.5" x2="46.2" y2="451.5" stroke="#555" stroke-width="1"/>
<line x1="40.5" y1="488.5" x2="46.2" y2="488.5" stroke="#555" stroke-width="1"/>
<line x1="40.5" y1="525.5" x2="46.2" y2="525.5" stroke="#555" stroke-width="1"/>
<line x1="40.5" y1="562.5" x2="46.2" y2="562.5" stroke="#555" stroke-width="1"/>
<line x1="40.5" y1="599.6" x2="46.2" y2="599.6" stroke="#555" stroke-width="1"/>
<line x1="46.2" y1="599.6" x2="504.6" y2="599.6" stroke="#555" stroke-width="1"/>
<line x1="46.2" y1="599.6" x2="46.2" y2="608.5" stroke="#555" stroke-width="1"/>
<line x1="97.13" y1="599.6" x2="97.13" y2="608.5" stroke="#555" stroke-width="1"/>
<line x1="148.07" y1="599.6" x2="148.07" y2="608.5" stroke="#555" stroke-width="1"/>
<line x1="199" y1="599.6" x2="199" y2="608.5" stroke="#555" stroke-width="1"/>
<line x1="249.93" y1="599.6" x2="249.93" y2="608.5" stroke="#555" stroke-width="1"/>
<line x1="300.87" y1="599.6" x2="300.87" y2="608.5" stroke="#555" stroke-width="1"/>
<line x1="351.8" y1="599.6" x2="351.8" y2="608.5" stroke="#555" stroke-width="1"/>
<line x1="402.73" y1="599.6" x2="402.73" y2="608.5" stroke="#555" stroke-width="1"/>
<line x1="453.67" y1="599.6" x2="453.67" y2="608.5" stroke="#555" stroke-width="1"/>
<line x1="504.6" y1="599.6" x2="504.6" y2="608.5" stroke="#555" stroke-width="1"/>
<line x1="65.3" y1="340.5" x2="65.3" y2="377.5" stroke="#555" stroke-width="1"/>
<line x1="62" y1="340.5" x2="68" y2="340.5" stroke="#555" stroke-width="1"/>
<line x1="62" y1="377.5" x2="68" y2="377.5" stroke="#555" stroke-width="1"/>
<text x="69.8" y="363.8" font-size="13.0" text-anchor="start" font-weight="normal" >100 nM</text>
<line x1="453.7" y1="587.9" x2="504.6" y2="587.9" stroke="#555" stroke-width="1"/>
<line x1="453.7" y1="584.3" x2="453.7" y2="591.6" stroke="#555" stroke-width="1"/>
<line x1="504.6" y1="584.3" x2="504.6" y2="591.6" stroke="#555" stroke-width="1"/>
<text x="478" y="580.5" font-size="12.6" text-anchor="middle" font-weight="normal" >1 min</text>
<text x="266.5" y="629" font-size="14.6" text-anchor="middle" font-weight="normal" >Time (min)</text>
<text transform="translate(29.1,513.1) scale(1,1.1) rotate(-90)" font-size="14">[Ca</text>
<text transform="translate(21.9,488) scale(1,1.1) rotate(-90)" font-size="8.8">2</text>
<text transform="translate(23.3,482.4) scale(1,1.1) rotate(-90)" font-size="9.5">+</text>
<text transform="translate(29.7,475.5) scale(1,1.1) rotate(-90)" font-size="15.5">]</text>
<text transform="translate(33.8,468.6) scale(1,1.1) rotate(-90)" font-size="11.5">i</text>
<text transform="translate(29.1,460.5) scale(1,1.17) rotate(-90)" font-size="14">(nM)</text>
<polyline fill="none" stroke="#000" stroke-width="0.8" stroke-linejoin="round" points="58.4,428.18 58.65,429.37 58.9,428.49 59.15,425.96 59.4,426.75 59.65,428.51 59.9,427.46 60.15,427 60.4,427.01 60.65,427.38 60.9,427.87 61.15,426.62 61.4,426.44 61.65,426.67 61.9,425.29 62.15,425.9 62.4,428.18 62.65,428.65 62.9,428.11 63.15,429.22 63.4,429.44 63.65,428.09 63.9,427.32 64.15,428.74 64.4,428.45 64.65,426.51 64.9,427.79 65.15,429.25 65.4,427.39 65.65,427.1 65.9,428.12 66.15,427.6 66.4,427.38 66.65,427.16 66.9,428.84 67.15,429.51 67.4,427.49 67.65,426.53 67.9,426.08 68.15,424.45 68.4,424.9 68.65,427.69 68.9,428.94 69.15,427.18 69.4,428.93 69.65,430.84 69.9,427.83 70.15,426.91 70.4,427.67 70.65,427.3 70.9,428.74 71.15,430.82 71.4,429.27 71.65,428 71.9,428.42 72.15,427.63 72.4,426.02 72.65,424.99 72.9,426.48 73.15,427.94 73.4,427.63 73.65,427.58 73.9,427.81 74.15,427.3 74.4,425.24 74.65,423.6 74.9,426.45 75.15,428.46 75.4,425.98 75.65,425.12 75.9,426.92 76.15,429.24 76.4,429.98 76.65,428.87 76.9,428.06 77.15,426.52 77.4,426.36 77.65,426.9 77.9,426.76 78.15,425.66 78.4,426.02 78.65,427.14 78.9,427.53 79.15,426.46 79.4,426.21 79.65,427.93 79.9,426.59 80.15,426.74 80.4,426.59 80.65,427.51 80.9,426.64 81.15,428 81.4,428.66 81.65,424.43 81.9,423.41 82.15,425.39 82.4,426.95 82.65,425.4 82.9,424.68 83.15,424.21 83.4,425.79 83.65,427.67 83.9,427.52 84.15,425.58 84.4,425.59 84.65,426.51 84.9,426.11 85.15,425.91 85.4,426.43 85.65,428.53 85.9,427.99 86.15,427.13 86.4,427.18 86.65,425.84 86.9,426.21 87.15,426.33 87.4,426.17 87.65,427.82 87.9,429.21 88.15,427.67 88.4,427.24 88.65,429.87 88.9,429.13 89.15,427.77 89.4,428.18 89.65,428.46 89.9,427.7 90.15,427.71 90.4,425.09 90.65,423.19 90.9,425.84 91.15,428.2 91.4,427.1 91.65,424.72 91.9,425.07 92.15,427.02 92.4,426.82 92.65,426.82 92.9,429.72 93.15,429.37 93.4,429.01 93.65,429.7 93.9,430.02 94.15,428.59 94.4,425.98 94.65,427.47 94.9,430.14 95.15,428.6 95.4,427.57 95.65,427.19 95.9,426.08 96.15,425.28 96.4,425.16 96.65,425.88 96.9,427.66 97.15,428.63 97.4,428.45 97.65,430.41 97.9,427.46 98.15,426.29 98.4,425.79 98.65,422.77 98.9,420.58 99.15,418.13 99.4,416.1 99.65,414.63 99.9,412.66 100.15,410.91 100.4,409.67 100.65,407.54 100.9,405.33 101.15,404.32 101.4,402.76 101.65,401.38 101.9,400.03 102.15,398.86 102.4,397.99 102.65,396.21 102.9,394.88 103.15,394.27 103.4,392.65 103.65,390.84 103.9,390.77 104.15,390.81 104.4,389.74 104.65,389.02 104.9,388.53 105.15,387.81 105.4,387.23 105.65,386.09 105.9,385.71 106.15,384.04 106.4,383.31 106.65,384.75 106.9,385.05 107.15,382.74 107.4,383.15 107.65,388.38 107.9,389.52 108.15,387.27 108.4,385.88 108.65,383.46 108.9,383.69 109.15,384.45 109.4,385.53 109.65,384.8 109.9,384.75 110.15,386.5 110.4,386.87 110.65,387.48 110.9,388.36 111.15,386.15 111.4,384.98 111.65,388.57 111.9,391.1 112.15,390.7 112.4,388.38 112.65,388.35 112.9,390.06 113.15,390.75 113.4,388.74 113.65,388.17 113.9,388.55 114.15,389.27 114.4,390.75 114.65,392.89 114.9,393.55 115.15,390.99 115.4,390.87 115.65,391.36 115.9,391.16 116.15,392.19 116.4,393.14 116.65,393.3 116.9,393.93 117.15,396.25 117.4,397.94 117.65,399.17 117.9,397.04 118.15,393.87 118.4,393.92 118.65,395.64 118.9,395.98 119.15,395.49 119.4,394.51 119.65,394.41 119.9,398.35 120.15,397.19 120.4,394.54 120.65,396.36 120.9,398.46 121.15,398.07 121.4,398.92 121.65,401.96 121.9,402.83 122.15,401.95 122.4,400.25 122.65,398.52 122.9,398.72 123.15,400.55 123.4,397.87 123.65,398.02 123.9,401.52 124.15,402.29 124.4,405.31 124.65,405.05 124.9,402.7 125.15,403.87 125.4,403.31 125.65,402.39 125.9,400.21 126.15,398.65 126.4,400.64 126.65,399.71 126.9,401.7 127.15,405.18 127.4,404.94 127.65,404.21 127.9,399.73 128.15,401.01 128.4,404.82 128.65,406.56 128.9,408 129.15,403.52 129.4,399.88 129.65,401.62 129.9,404.17 130.15,404.85 130.4,407.64 130.65,410.23 130.9,409.08 131.15,407.34 131.4,406.18 131.65,406.69 131.9,404.44 132.15,404.77 132.4,407.48 132.65,408.77 132.9,406.15 133.15,405.06 133.4,408.67 133.65,407.46 133.9,409.08 134.15,407.89 134.4,403.98 134.65,404.57 134.9,407.73 135.15,410.05 135.4,407 135.65,406.51 135.9,412.22 136.15,410.6 136.4,405.8 136.65,406.74 136.9,408.77 137.15,407.92 137.4,408.14 137.65,410.09 137.9,409.99 138.15,406.83 138.4,406.16 138.65,408.14 138.9,409.13 139.15,405.32 139.4,406.2 139.65,412.39 139.9,408.76 140.15,407.91 140.4,408 140.65,405.3 140.9,408.5 141.15,412.45 141.4,411.34 141.65,411.74 141.9,411.21 142.15,411.19 142.4,412.65 142.65,412.91 142.9,414 143.15,412 143.4,409.71 143.65,410.42 143.9,412.23 144.15,413.95 144.4,412.41 144.65,410.41 144.9,410.56 145.15,413.02 145.4,411.69 145.65,408.93 145.9,412.1 146.15,413.08 146.4,411.36 146.65,411.4 146.9,413.82 147.15,413.76 147.4,413.27 147.65,413.09 147.9,415.58 148.15,415.6 148.4,412.72 148.65,411.94 148.9,410.4 149.15,411.01 149.4,413.96 149.65,414.7 149.9,414.35 150.15,413.41 150.4,410.55 150.65,412.32 150.9,413.95 151.15,413.31 151.4,414.5 151.65,415.73 151.9,416.06 152.15,415.29 152.4,413.13 152.65,413.33 152.9,413.53 153.15,413.24 153.4,413.71 153.65,411.75 153.9,413.08 154.15,417.48 154.4,417.42 154.65,413.97 154.9,412.19 155.15,414.08 155.4,414.39 155.65,411.72 155.9,412.93 156.15,415.02 156.4,415.28 156.65,415.98 156.9,414.54 157.15,413.89 157.4,416.18 157.65,416.81 157.9,417.81 158.15,416.58 158.4,414.09 158.65,413.77 158.9,415.84 159.15,417.2 159.4,416.79 159.65,415.66 159.9,414.96 160.15,416.47 160.4,417.11 160.65,416.07 160.9,415.8 161.15,415.91 161.4,417.52 161.65,416.7 161.9,414.98 162.15,414.19 162.4,410.56 162.65,411.16 162.9,416.72 163.15,421.06 163.4,419.41 163.65,416.56 163.9,414.19 164.15,415.53 164.4,418.04 164.65,417.12 164.9,417.23 165.15,416.86 165.4,419.98 165.65,418.82 165.9,416.08 166.15,417.82 166.4,417.84 166.65,418.18 166.9,417.29 167.15,415.61 167.4,416.51 167.65,417.58 167.9,416.74 168.15,416.85 168.4,415.57 168.65,415.53 168.9,416.8 169.15,419 169.4,420.65 169.65,417.34 169.9,417.07 170.15,416.3 170.4,413.99 170.65,417.14 170.9,417.8 171.15,417.15 171.4,418.56 171.65,417.08 171.9,417.68 172.15,419.04 172.4,416.71 172.65,417.81 172.9,419.47 173.15,420.95 173.4,422.13 173.65,420.77 173.9,418.56 174.15,418.48 174.4,419.29 174.65,418.63 174.9,419.8 175.15,418.94 175.4,420 175.65,421.74 175.9,419.02 176.15,418.49 176.4,420 176.65,420.48 176.9,419.33 177.15,416.6 177.4,416.38 177.65,418.59 177.9,419.31 178.15,418.38 178.4,419.04 178.65,420.29 178.9,420.81 179.15,421.25 179.4,421.55 179.65,418.63 179.9,417.89 180.15,416.74 180.4,415.99 180.65,419.71 180.9,418.79 181.15,420.16 181.4,422.86 181.65,421.43 181.9,421.45 182.15,423.09 182.4,419.03 182.65,417.43 182.9,420.32 183.15,423.92 183.4,422.63"/>
<polyline fill="none" stroke="#000" stroke-width="0.8" stroke-linejoin="round" points="199.7,424.33 199.92,423.92 200.14,427.53 200.36,423.31 200.58,419.04 200.8,423.33 201.02,425.05 201.24,427.3 201.46,429.47 201.68,418.79 201.9,421.34 202.12,422.68 202.34,426.13 202.56,422.55 202.78,421.12 203,422.36 203.22,419.09 203.44,420.98 203.66,424.3 203.88,422.72 204.1,418.48 204.32,417.08 204.54,427.12 204.76,427.31 204.98,422.5 205.2,422.12 205.42,425.51 205.64,425.68 205.86,427.08 206.08,428.5 206.3,423.56 206.52,415.71 206.74,424.94 206.96,421.59 207.18,416.89 207.4,425 207.62,428.2 207.84,420.84 208.06,424.36 208.28,425.82 208.5,423.58 208.72,424.5 208.94,421.53 209.16,421.63 209.38,422.16 209.6,423.81 209.82,422.73 210.04,419.12 210.26,420.04 210.48,423.12 210.7,422.7 210.92,421.08 211.14,423.6 211.36,420.71 211.58,427.76 211.8,422.1 212.02,431.45 212.24,424.06 212.46,418.23 212.68,425.1 212.9,420.84 213.12,420.71 213.34,421.62 213.56,427.89 213.78,422.12 214,418.88 214.22,416.74 214.44,419.28 214.66,421.16 214.88,420.02 215.1,421.95 215.32,419.95 215.54,421.68 215.76,413.55 215.98,427.03 216.2,417.02 216.42,421.01 216.64,421.06 216.86,422.13 217.08,423.99 217.3,421.92 217.52,425.49 217.74,416.88 217.96,426.41 218.18,421.05 218.4,426.16 218.62,423.01 218.84,424.29 219.06,424.14 219.28,427.37 219.5,417.82 219.72,421.51 219.94,424.3 220.16,421.21 220.38,428.24 220.6,418.77 220.82,427.49 221.04,419.82 221.26,415.05 221.48,424.8 221.7,415.44 221.92,421.34 222.14,425.72 222.36,425.23 222.58,423.74 222.8,420.23 223.02,421.47 223.24,416.58 223.46,419.16 223.68,418.46 223.9,418.44 224.12,424.2 224.34,419.59 224.56,418.65 224.78,418.27 225,424.41 225.22,420.05 225.44,421.27 225.66,421.11 225.88,419.65 226.1,422.73 226.32,421.94 226.54,417.93 226.76,418.36 226.98,417.54 227.2,420.14 227.42,426.89 227.64,419.13 227.86,423.52 228.08,416.49 228.3,420.71 228.52,423.04 228.74,420.2 228.96,420.75 229.18,425.18 229.4,415.55 229.62,421.71 229.84,424.25 230.06,424.64 230.28,418.39 230.5,416.83 230.72,420.49 230.94,418.26 231.16,417.96 231.38,417.34 231.6,413.89 231.82,424.01 232.04,424.78 232.26,425.15 232.48,421.59 232.7,418.34 232.92,418.07 233.14,422.05 233.36,420 233.58,425.18 233.8,419.63 234.02,421.28 234.24,426.08 234.46,418.92 234.68,416.36 234.9,417.73 235.12,425.01 235.34,423.39 235.56,416.76 235.78,422.75 236,419.97 236.22,425.56 236.44,421.18 236.66,420.49 236.88,420.33 237.1,422.71 237.32,427.43 237.54,418.72 237.76,425.27 237.98,418.09 238.2,421.56 238.42,417.31 238.64,422.46 238.86,415.75 239.08,425.7 239.3,422.39 239.52,417.37 239.74,418.89 239.96,416 240.18,423.24 240.4,419.09 240.62,423.53 240.84,414.89 241.06,422.97 241.28,419.88 241.5,426.54 241.72,421.71 241.94,423.27 242.16,425.12 242.38,424.28 242.6,417.85 242.82,422.97 243.04,423.06 243.26,421.89 243.48,414.96 243.7,420.57 243.92,418.93 244.14,423.1 244.36,418.98 244.58,419.54 244.8,420.57 245.02,421.02 245.24,419.84 245.46,415.08 245.68,415.76 245.9,422.18 246.12,421.55 246.34,419.16 246.56,425.66 246.78,417.19 247,424.15 247.22,415.87 247.44,417.31 247.66,421.33 247.88,420.75 248.1,424.77 248.32,418.91 248.54,417.22 248.76,423.77 248.98,424.33 249.2,415.6 249.42,411 249.64,413.43 249.86,423.39 250.08,413.64 250.3,421.33 250.52,419.6 250.74,418.04 250.96,423.68 251.18,417.51 251.4,427.56 251.62,421.59 251.84,419.13 252.06,412.2 252.28,413.65 252.5,416.36 252.72,412.34 252.94,410.67 253.16,412.38 253.38,413.46 253.6,414.75 253.82,412.13 254.04,414.18 254.26,411.31 254.48,418.18 254.7,414.05 254.92,413.26 255.14,409.87 255.36,409.39 255.58,409.79 255.8,411.62 256.02,404.29 256.24,407.51 256.46,410.09 256.68,410.19 256.9,408.11 257.12,411.98 257.34,417.24 257.56,409.58 257.78,415.42 258,408.61 258.22,411.17 258.44,416.84 258.66,416.15 258.88,412.88 259.1,411.94 259.32,420.34 259.54,405.38 259.76,416.39 259.98,409.78 260.2,405.89 260.42,417.06 260.64,409.45 260.86,413.77 261.08,410.05 261.3,415.39 261.52,412.6 261.74,417.28 261.96,410.45 262.18,410.25 262.4,406.18 262.62,415.98 262.84,413.47 263.06,411.73 263.28,410.4 263.5,413.93 263.72,411.75 263.94,412.33 264.16,411.1 264.38,419.7 264.6,411.62 264.82,410.57 265.04,406.89 265.26,415.61 265.48,414.71 265.7,413.99 265.92,415.52 266.14,416.24 266.36,409.65 266.58,407.92 266.8,406.87 267.02,417.9 267.24,411.66 267.46,417.46 267.68,413.75 267.9,408.99 268.12,421.34 268.34,412.95 268.56,413.3 268.78,410.17 269,413.56 269.22,408.44 269.44,405.22 269.66,409.27 269.88,412.08 270.1,412.23 270.32,408.22 270.54,409.5 270.76,414.24 270.98,407.26 271.2,407.84 271.42,414.31 271.64,410.67 271.86,412.88 272.08,413.14 272.3,409.52 272.52,412.25 272.74,414.41 272.96,412.43 273.18,413.87 273.4,411.84 273.62,407.61 273.84,410.61 274.06,413.01 274.28,411.22 274.5,413.19 274.72,416.97 274.94,413.29 275.16,411.61 275.38,415.06 275.6,418 275.82,412.49 276.04,414.46 276.26,406.63 276.48,415.89 276.7,412.62 276.92,409.19 277.14,417.21 277.36,408.97 277.58,421.43 277.8,410.03 278.02,412.63 278.24,411.76 278.46,408.67 278.68,408.46 278.9,417.5 279.12,416.61 279.34,412.97 279.56,412.36 279.78,409.19 280,422.5 280.22,410.02 280.44,417.16 280.66,413.29 280.88,417.42 281.1,416.32 281.32,418.1 281.54,413.98 281.76,418.99 281.98,409.19 282.2,411.82 282.42,410.24 282.64,412.13 282.86,413.13 283.08,413.66 283.3,409.36 283.52,413.9 283.74,413.73 283.96,407.65 284.18,415.67 284.4,417.23 284.62,411.3 284.84,404.92 285.06,416.73 285.28,410.71 285.5,417.22 285.72,412.46 285.94,415.66 286.16,417.49 286.38,416.21 286.6,410.48 286.82,419.6 287.04,414.67 287.26,412.51 287.48,413.96 287.7,409.64 287.92,420.02 288.14,410.26 288.36,411.72 288.58,410.28 288.8,416.45 289.02,412.32 289.24,414.69 289.46,412.66 289.68,409.93 289.9,416.8 290.12,417.67 290.34,415.3 290.56,416.11 290.78,409.73 291,415.21 291.22,414.47 291.44,409.1 291.66,406.96 291.88,413.98 292.1,416.76 292.32,414.44 292.54,416.39 292.76,415.37 292.98,410.44 293.2,413.38 293.42,416.49 293.64,408.89 293.86,413.06 294.08,410.15 294.3,416.47 294.52,414.68 294.74,414.91 294.96,417.59 295.18,413.04 295.4,415.04 295.62,412.22 295.84,405.2 296.06,412.42 296.28,415.28 296.5,410.82 296.72,412.87 296.94,414.78 297.16,409.72 297.38,416.73 297.6,413.99 297.82,410.39 298.04,422.34 298.26,412.42 298.48,411.59 298.7,413.37 298.92,413.39 299.14,417.98 299.36,412.18 299.58,412.07"/>
<polyline fill="none" stroke="#000" stroke-width="0.9" stroke-linejoin="round" points="319.3,418.11 320.1,416.57 320.9,419.36 321.7,417.08 322.5,419.46 323.3,426.07 324.1,420.27 324.9,421.23 325.7,416.7 326.5,416.37 327.3,421.29 328.1,416.22 328.9,416.3 329.7,420.2 330.5,417.65 331.3,420.8 332.1,416.4 332.9,421.58 333.7,412.46 334.5,416.41 335.3,415.09 336.1,419.53 336.9,414.64 337.7,421.91 338.5,416.12 339.3,421.79 340.1,404 340.9,422.01 341.7,422.31 342.5,417.29 343.3,419.41 344.1,421.17 344.9,419.47 345.7,422.76 346.5,422.79 347.3,418.19 348.1,413.74 348.9,418.9 349.7,422.96 350.5,418.11 351.3,417.72 352.1,417.94 352.9,420.68 353.7,423.07 354.5,413.48 355.3,421.12 356.1,417.4 356.9,414.7 357.7,421.84 358.5,418.21 359.3,417.32 360.1,418.81 360.9,416.2 361.7,420.83 362.5,417.11 363.3,424.69 364.1,420.7 364.9,417.86 365.7,418.57 366.5,416.01 367.3,420.69 368.1,420.88 368.9,413.6 369.7,419.45 370.5,421.06 371.3,421.69 372.1,417.92 372.9,417.28 373.7,419.03 374.5,421.25 375.3,420.41 376.1,419.8 376.9,418.37 377.7,416.68 378.5,414.75 379.3,420.27 380.1,417.73 380.9,419.83 381.7,426.52 382.5,415.01 383.3,422.81 384.1,416.49 384.9,418.22 385.7,417.29 386.5,419.3 387.3,420.69 388.1,420.2 388.9,424.43 389.7,417.97 390.5,422.27 391.3,418.23 392.1,416.97 392.9,419.4 393.7,415.16 394.5,423 395.3,423.55 396.1,418.37 396.9,415.44 397.7,421.19 398.5,419.8 399.3,421.5 400.1,417.11 400.9,420.31 401.7,421.33 402.5,425.68 403.3,417.19 404.1,422.03 404.9,418.12 405.7,419.99 406.5,424.27 407.3,415.28 408.1,415.2 408.9,418.99 409.7,418.39 410.5,425.09 411.3,416.61 412.1,425 412.9,418.98 413.7,421.85 414.5,417.5 415.3,414.63 416.1,418.37 416.9,421.69 417.7,417.41 418.5,416.24 419.3,421.69 420.1,410.29 420.9,418.26 421.7,420.03 422.5,415.82 423.3,417.38 424.1,421 424.9,418.61 425.7,414.43 426.5,418.7 427.3,414.48 428.1,421.02 428.9,421.5 429.7,420.47 430.5,421.38 431.3,419 432.1,413.83"/>
<text transform="translate(467.3,422.7) scale(1,1.07)" font-size="14.8" text-anchor="middle" font-weight="normal" >Patient</text>
<polyline fill="none" stroke="#000" stroke-width="0.8" stroke-linejoin="round" points="59.5,509.2 59.83,510.56 60.16,509.65 60.49,510.13 60.82,509.43 61.15,511.33 61.48,509.42 61.81,510.1 62.14,509.8 62.47,511.3 62.8,510.18 63.13,509.39 63.46,509.76 63.79,509.5 64.12,509.44 64.45,509.93 64.78,509.15 65.11,510.44 65.44,508.92 65.77,510.05 66.1,510.46 66.43,510.31 66.76,511.1 67.09,510.14 67.42,510.63 67.75,509.66 68.08,511.13 68.41,508.54 68.74,510.18 69.07,509.52 69.4,510.54 69.73,509.42 70.06,509.96 70.39,510.28 70.72,509.47 71.05,510.05 71.38,510.38 71.71,509.81 72.04,509.66 72.37,510 72.7,511.14 73.03,509.54 73.36,510.58 73.69,508.77 74.02,509.42 74.35,510.07 74.68,510.51 75.01,509.86 75.34,510.17 75.67,509.15 76,509.45 76.33,510.47 76.66,510.1 76.99,509.95 77.32,509.12 77.65,511.03 77.98,510.88 78.31,509.9 78.64,510.32 78.97,509.31 79.3,510.48 79.63,510.1 79.96,509.82 80.29,508.8 80.62,509.5 80.95,509.09 81.28,510.58 81.61,509.63 81.94,510.99 82.27,510.3 82.6,509.57 82.93,510.82 83.26,510.76 83.59,510.16 83.92,508.87 84.25,510.43 84.58,510.51 84.91,510.36 85.24,509.51 85.57,509.22 85.9,509.07 86.23,508.94 86.56,509.5 86.89,510.65 87.22,510.84 87.55,509.84 87.88,509.66 88.21,510.54 88.54,510.24 88.87,510.55 89.2,509.95 89.53,509.73 89.86,510.8 90.19,509.48 90.52,510.47 90.85,509.51 91.18,510.13 91.51,509.82 91.84,509.98 92.17,509.68 92.5,510.9 92.83,509.97 93.16,508.8 93.49,506.82 93.82,505.91 94.15,502.69 94.48,500.39 94.81,498.18 95.14,496.94 95.47,494.55 95.8,492.57 96.13,490.91 96.46,489.64 96.79,486.91 97.12,485.12 97.45,482.34 97.78,480.94 98.11,478.91 98.44,476.72 98.77,474.76 99.1,471.97 99.43,471.13 99.76,469.16 100.09,467.74 100.42,467.63 100.75,466.98 101.08,465.65 101.41,465.9 101.74,465.54 102.07,463.99 102.4,463.27 102.73,463.26 103.06,462.89 103.39,462.48 103.72,464.11 104.05,464.92 104.38,460.92 104.71,462.89 105.04,461.79 105.37,461.84 105.7,463.29 106.03,463.84 106.36,462.6 106.69,464.65 107.02,464.97 107.35,464.03 107.68,466.2 108.01,465.97 108.34,465.59 108.67,465.95 109,467.41 109.33,467.24 109.66,469.97 109.99,468.5 110.32,468.3 110.65,470.4 110.98,469.18 111.31,470.06 111.64,470.28 111.97,471.34 112.3,471.41 112.63,474.17 112.96,472.29 113.29,473.1 113.62,474.12 113.95,475.72 114.28,473.65 114.61,473.76 114.94,476.01 115.27,474.72 115.6,475.05 115.93,475.43 116.26,476.94 116.59,476.9 116.92,474.25 117.25,478.08 117.58,478.54 117.91,478.46 118.24,477.76 118.57,479.52 118.9,476.95 119.23,481.45 119.56,479.66 119.89,479.81 120.22,481.21 120.55,483.09 120.88,480.8 121.21,482.09 121.54,481.52 121.87,482.13 122.2,483.76 122.53,485.21 122.86,483.59 123.19,483.61 123.52,484.2 123.85,484.63 124.18,484.48 124.51,484.75 124.84,484.26 125.17,485.11 125.5,485.73 125.83,488.59 126.16,485.88 126.49,488.51 126.82,486.99 127.15,487.24 127.48,488.39 127.81,489.29 128.14,487.83 128.47,488 128.8,489.12 129.13,489.47 129.46,489.37 129.79,489.86 130.12,489.86 130.45,489.55 130.78,491.05 131.11,492.57 131.44,492.16 131.77,491.15 132.1,491.93 132.43,491.86 132.76,491.47 133.09,491.76 133.42,492.07 133.75,494.19 134.08,493.56 134.41,492.4 134.74,493.12 135.07,493.7 135.4,492.95 135.73,494.04 136.06,493.08 136.39,494.74 136.72,495.38 137.05,494.44 137.38,495.24 137.71,495.4 138.04,495.61 138.37,496.3 138.7,494.57 139.03,495.81 139.36,496.4 139.69,494.42 140.02,497.04 140.35,496.44 140.68,497.77 141.01,497.09 141.34,497.72 141.67,497.97 142,497.43 142.33,498.31 142.66,497.63 142.99,496.21 143.32,497.6 143.65,498.05 143.98,499.2 144.31,498.12 144.64,498.64 144.97,499.32 145.3,499.68 145.63,497.24 145.96,499.03 146.29,498.37 146.62,500.06 146.95,500.73 147.28,500.18 147.61,498.94 147.94,499.36 148.27,501.18 148.6,500.37 148.93,499.54 149.26,500.92 149.59,500.78 149.92,499.61 150.25,500.91 150.58,500.08 150.91,501.18 151.24,500.91 151.57,501.3 151.9,499.1 152.23,501.54 152.56,501.14 152.89,503.11 153.22,501.83 153.55,502.07 153.88,500.77 154.21,500.84 154.54,501.83 154.87,503.07 155.2,501.55 155.53,503.74 155.86,503.3 156.19,501.99 156.52,504.03 156.85,502.08 157.18,503.3 157.51,502.26 157.84,503.15 158.17,503.92 158.5,502.52 158.83,504.01 159.16,502.68 159.49,503.19 159.82,504.37 160.15,503.98 160.48,504.28 160.81,502.68 161.14,505.48 161.47,503.2 161.8,502.57 162.13,504.03 162.46,504.03 162.79,505.67 163.12,504.67 163.45,504 163.78,503.69 164.11,505.42 164.44,504.84 164.77,504.6 165.1,503.71 165.43,505.96 165.76,505.1 166.09,505.86 166.42,505.57 166.75,504.95 167.08,504.28 167.41,506.07 167.74,506.42 168.07,504.99 168.4,505.52 168.73,507.14 169.06,505.97 169.39,506.74 169.72,505.31 170.05,505.8 170.38,506.2 170.71,506.64 171.04,505.66 171.37,506.68 171.7,506.78 172.03,505.6 172.36,507.33 172.69,507.82 173.02,505.84 173.35,507.82 173.68,506.09 174.01,508.59 174.34,507.33 174.67,506 175,509.87 175.33,508.76 175.66,508.86 175.99,507.71 176.32,509.22 176.65,508.56 176.98,507.91 177.31,508.69 177.64,508.73 177.97,508.23 178.3,508.16 178.63,509.31 178.96,507.63 179.29,509.64 179.62,508.21 179.95,508.56 180.28,508.36"/>
<polyline fill="none" stroke="#000" stroke-width="0.8" stroke-linejoin="round" points="200.3,512.94 200.52,509.6 200.74,507.74 200.96,500.95 201.18,510.9 201.4,515.4 201.62,515.45 201.84,509.27 202.06,505.78 202.28,510.51 202.5,501.35 202.72,506.06 202.94,509.5 203.16,508.93 203.38,508.65 203.6,502.77 203.82,501.4 204.04,508.22 204.26,510.24 204.48,506.18 204.7,503.61 204.92,508.34 205.14,511.11 205.36,507.26 205.58,504.2 205.8,513.13 206.02,510.23 206.24,506.18 206.46,506.76 206.68,504.23 206.9,511.37 207.12,504.79 207.34,503.19 207.56,506.53 207.78,513.73 208,496.63 208.22,502.46 208.44,509.45 208.66,507.79 208.88,507.19 209.1,506.83 209.32,505.48 209.54,507.88 209.76,507.67 209.98,505.6 210.2,502.58 210.42,504.08 210.64,501.38 210.86,507.79 211.08,506.23 211.3,508.84 211.52,510.52 211.74,505.86 211.96,508.15 212.18,505.17 212.4,508.17 212.62,502.21 212.84,506.34 213.06,504.88 213.28,507.45 213.5,506.43 213.72,502.46 213.94,510.78 214.16,506.27 214.38,503.34 214.6,508.09 214.82,503.73 215.04,502.38 215.26,509.58 215.48,507.58 215.7,502.74 215.92,505.65 216.14,509.49 216.36,506.42 216.58,507.36 216.8,505.63 217.02,508.02 217.24,510.79 217.46,507.57 217.68,505.03 217.9,504.72 218.12,506.98 218.34,505.46 218.56,507.67 218.78,507.57 219,507.53 219.22,506.69 219.44,508.87 219.66,509.38 219.88,495.71 220.1,500.34 220.32,505.87 220.54,507.54 220.76,507.91 220.98,502.11 221.2,503.79 221.42,502.16 221.64,509.06 221.86,505.45 222.08,499.5 222.3,505.19 222.52,503.84 222.74,508.61 222.96,503.98 223.18,503.65 223.4,504.27 223.62,508.85 223.84,502.64 224.06,504.11 224.28,503.35 224.5,504.92 224.72,509.04 224.94,507.34 225.16,510.62 225.38,507.19 225.6,505.12 225.82,510.47 226.04,504.99 226.26,510.74 226.48,506.79 226.7,502.16 226.92,509.77 227.14,506.22 227.36,507.89 227.58,507.53 227.8,505.42 228.02,502.76 228.24,509.07 228.46,504.21 228.68,504.42 228.9,500.61 229.12,507.01 229.34,507.22 229.56,497.18 229.78,498.17 230,501.63 230.22,503.84 230.44,505.17 230.66,503.46 230.88,509.08 231.1,508.25 231.32,501.46 231.54,506.83 231.76,505.23 231.98,504.37 232.2,502.09 232.42,506.33 232.64,503.57 232.86,498.38 233.08,507.09 233.3,504.86 233.52,505.46 233.74,501.02 233.96,502.22 234.18,502.92 234.4,507.31 234.62,507.39 234.84,504.37 235.06,515.22 235.28,503.79 235.5,500.1 235.72,508.94 235.94,501.99 236.16,502.94 236.38,507.55 236.6,500.73 236.82,504.3 237.04,506.03 237.26,507.21 237.48,508.46 237.7,503.72 237.92,508.5 238.14,499.34 238.36,502.25 238.58,503.71 238.8,504.54 239.02,505.52 239.24,508.87 239.46,507.13 239.68,508.79 239.9,506.83 240.12,499.52 240.34,511.69 240.56,507.91 240.78,504.08 241,503 241.22,506.62 241.44,505.14 241.66,508.38 241.88,510.64 242.1,506.98 242.32,510.65 242.54,511.23 242.76,506.18 242.98,507.19 243.2,505.3 243.42,503.83 243.64,503.87 243.86,500.73 244.08,504.31 244.3,503.47 244.52,507.05 244.74,507.94 244.96,504.58 245.18,502.88 245.4,505 245.62,503.74 245.84,504.17 246.06,509.92 246.28,508.43 246.5,505.72 246.72,507.63 246.94,504.02 247.16,501.42 247.38,501.77 247.6,502.47 247.82,501.35 248.04,506.46 248.26,505 248.48,502.21 248.7,504.03 248.92,502.71 249.14,504.94 249.36,508.2 249.58,497.67 249.8,504.95 250.02,500.57 250.24,499.36 250.46,499.05 250.68,507.3 250.9,499.06 251.12,505.71 251.34,501.13 251.56,498.08 251.78,501.28 252,505.11 252.22,504.47 252.44,498.26 252.66,501.09 252.88,500.21 253.1,499.09 253.32,500.24 253.54,500.68 253.76,496.6 253.98,501.66 254.2,495.37 254.42,498.47 254.64,502.84 254.86,496.79 255.08,496.97 255.3,499.96 255.52,496.35 255.74,492.57 255.96,495.58 256.18,494.76 256.4,493.6 256.62,490.85 256.84,500.32 257.06,496.55 257.28,493.49 257.5,494.91 257.72,494.49 257.94,494.06 258.16,498.32 258.38,498.37 258.6,492.03 258.82,492.23 259.04,493.37 259.26,491.66 259.48,507.16 259.7,495.64 259.92,496.57 260.14,498.98 260.36,493.43 260.58,491.14 260.8,500.55 261.02,493.4 261.24,498.75 261.46,494.71 261.68,504.25 261.9,499.63 262.12,496.88 262.34,492.44 262.56,494.39 262.78,490.29 263,494.51 263.22,492.14 263.44,499.01 263.66,497.69 263.88,497.04 264.1,505.97 264.32,496.8 264.54,499.39 264.76,498.32 264.98,494.87 265.2,493.43 265.42,502.35 265.64,493.23 265.86,497.7 266.08,495.31 266.3,498.82 266.52,502.64 266.74,493.29 266.96,497.93 267.18,501 267.4,494.35 267.62,492.55 267.84,495.9 268.06,496.03 268.28,498.71 268.5,491.86 268.72,497.76 268.94,491.37 269.16,497.83 269.38,496.33 269.6,488.88 269.82,498.98 270.04,494.86 270.26,501.59 270.48,499.13 270.7,492.9 270.92,492.49 271.14,496.14 271.36,493.28 271.58,505.34 271.8,500.65 272.02,496.59 272.24,498.25 272.46,495.89 272.68,498.83 272.9,492.37 273.12,496.24 273.34,499.09 273.56,493.31 273.78,497.79 274,495.53 274.22,502.01 274.44,500.76 274.66,493.03 274.88,492.38 275.1,496.18 275.32,504.01 275.54,503.27 275.76,501.5 275.98,499.03 276.2,498.14 276.42,501.25 276.64,499.55 276.86,495.47 277.08,496.54 277.3,501.59 277.52,504.26 277.74,499.26 277.96,494.26 278.18,497.12 278.4,495.98 278.62,501.16 278.84,499.64 279.06,495.75 279.28,504.4 279.5,501.13 279.72,497.63 279.94,500.11 280.16,498.87 280.38,504.81 280.6,502.61 280.82,500.93 281.04,502.47 281.26,504.01 281.48,497.32 281.7,497.75 281.92,497.83 282.14,501.19 282.36,496.04 282.58,504.72 282.8,492.28 283.02,496.51 283.24,493.3 283.46,501.75 283.68,496.44 283.9,500.08 284.12,501.15 284.34,505.41 284.56,502.35 284.78,499.05 285,499.15 285.22,502.12 285.44,501.49 285.66,505.09 285.88,498.16 286.1,501.4 286.32,501.9 286.54,501.64 286.76,507.54 286.98,501.98 287.2,500.28 287.42,500.88 287.64,502.51 287.86,499.27 288.08,502.81 288.3,504.7 288.52,503.3 288.74,497.67 288.96,498.82 289.18,503.46 289.4,503.3 289.62,502.24 289.84,500.92 290.06,499.31 290.28,501.21 290.5,497.3 290.72,496.37 290.94,500.31 291.16,504.35 291.38,501.6 291.6,503.17 291.82,501.59 292.04,504.88 292.26,501.53 292.48,503 292.7,507.54 292.92,500.34 293.14,505.74 293.36,499 293.58,507.74 293.8,501.93 294.02,499.1 294.24,501.08 294.46,505.78 294.68,499.5 294.9,501.48 295.12,505.16 295.34,500.19 295.56,501.08 295.78,501.03 296,499.06 296.22,500.57 296.44,504.11 296.66,498.25 296.88,500.58 297.1,503.93 297.32,501.43 297.54,501.99 297.76,506.41 297.98,500.77 298.2,502.74 298.42,501.2 298.64,503.6 298.86,497.73 299.08,499.23 299.3,501.72 299.52,505.7"/>
<polyline fill="none" stroke="#000" stroke-width="0.9" stroke-linejoin="round" points="319.3,508.9 320.1,511 320.9,508.77 321.7,512.3 322.5,512.91 323.3,510.89 324.1,509.71 324.9,510.74 325.7,509.91 326.5,509.07 327.3,509.54 328.1,510.6 328.9,512.03 329.7,511.14 330.5,508.69 331.3,506.64 332.1,508.25 332.9,509.08 333.7,511.99 334.5,509.68 335.3,506.85 336.1,512.43 336.9,512.28 337.7,510.3 338.5,507.32 339.3,509.05 340.1,510.28 340.9,510.42 341.7,508.33 342.5,508.51 343.3,513 344.1,506.36 344.9,512.91 345.7,507.76 346.5,512.3 347.3,510.75 348.1,510.83 348.9,509.97 349.7,512.99 350.5,510.61 351.3,509.56 352.1,506.82 352.9,510.46 353.7,510.2 354.5,508.69 355.3,507.38 356.1,509.66 356.9,509.97 357.7,508.82 358.5,512.51 359.3,510.55 360.1,506.29 360.9,507.49 361.7,513.35 362.5,510.06 363.3,510.53 364.1,507.99 364.9,508.9 365.7,508.45 366.5,506.58 367.3,505.92 368.1,508.22 368.9,508.45 369.7,506.98 370.5,508.7 371.3,507.36 372.1,513.51 372.9,506.62 373.7,514.03 374.5,508.88 375.3,509.45 376.1,508.41 376.9,509.25 377.7,510.08 378.5,508.54 379.3,508.36 380.1,509.08 380.9,509.17 381.7,510.73 382.5,512.31 383.3,506.97 384.1,509.03 384.9,508.18 385.7,507.11 386.5,506.82 387.3,506.24 388.1,506.82 388.9,506.97 389.7,511.72 390.5,512.6 391.3,508.59 392.1,511.76 392.9,504.39 393.7,510.97 394.5,506.23 395.3,508.04 396.1,506.16 396.9,508.07 397.7,509.63 398.5,506.84 399.3,509.04 400.1,510.44 400.9,510.28 401.7,509.33 402.5,508.9 403.3,507.75 404.1,507.81 404.9,506.66 405.7,504.95 406.5,506.49 407.3,506.44 408.1,510.8 408.9,507.87 409.7,509.39 410.5,505.76 411.3,506.48 412.1,507.2 412.9,506.92 413.7,508.5 414.5,504.46 415.3,508.39 416.1,508.32 416.9,506.52 417.7,505.38 418.5,507.48 419.3,507.12 420.1,504.24 420.9,508.47 421.7,504.04 422.5,505.75 423.3,509.35 424.1,506.53 424.9,503.69 425.7,509.07 426.5,502.48 427.3,507.2 428.1,505.3 428.9,509.56 429.7,507.87 430.5,507.6 431.3,505.6 432.1,506.75 432.9,503.42 433.7,503.71"/>
<text transform="translate(467.6,513.1) scale(1,1.07)" font-size="14.8" text-anchor="middle" font-weight="normal" >Control</text>
<line x1="85.4" y1="524.4" x2="85.4" y2="538.6" stroke="#000" stroke-width="1.4"/>
<polygon points="85.4,521.4 82.3,529.2 88.5,529.2" fill="#000"/>
<text x="86.2" y="554.5" font-size="13.0" text-anchor="middle" font-weight="normal" >CXCL12</text>
<text x="86.2" y="567.8" font-size="13.0" text-anchor="middle" font-weight="normal" >100 ng/mL</text>
<line x1="200.1" y1="524.4" x2="200.1" y2="538.6" stroke="#000" stroke-width="1.4"/>
<polygon points="200.1,521.4 197,529.2 203.2,529.2" fill="#000"/>
<text x="201" y="554.5" font-size="13.0" text-anchor="middle" font-weight="normal" >PMA</text>
<text x="201" y="567.8" font-size="13.0" text-anchor="middle" font-weight="normal" >1 ng/mL</text>
<line x1="248.4" y1="524.4" x2="248.4" y2="538.6" stroke="#000" stroke-width="1.4"/>
<polygon points="248.4,521.4 245.3,529.2 251.5,529.2" fill="#000"/>
<text x="256" y="554.5" font-size="13.0" text-anchor="middle" font-weight="normal" >CXCL12</text>
<text x="256" y="567.8" font-size="13.0" text-anchor="middle" font-weight="normal" >100 ng/mL</text>
<line x1="334.4" y1="524.4" x2="334.4" y2="538.6" stroke="#000" stroke-width="1.4"/>
<polygon points="334.4,521.4 331.3,529.2 337.5,529.2" fill="#000"/>
<text x="334.6" y="554.5" font-size="13.0" text-anchor="middle" font-weight="normal" >PMA</text>
<text x="334.6" y="567.8" font-size="13.0" text-anchor="middle" font-weight="normal" >3 ng/mL</text>
<line x1="398.4" y1="524.4" x2="398.4" y2="538.6" stroke="#000" stroke-width="1.4"/>
<polygon points="398.4,521.4 395.3,529.2 401.5,529.2" fill="#000"/>
<text x="400.5" y="554.5" font-size="13.0" text-anchor="middle" font-weight="normal" >CXCL12</text>
<text x="400.5" y="567.8" font-size="13.0" text-anchor="middle" font-weight="normal" >100 ng/mL</text>
</svg>
</body></html>
